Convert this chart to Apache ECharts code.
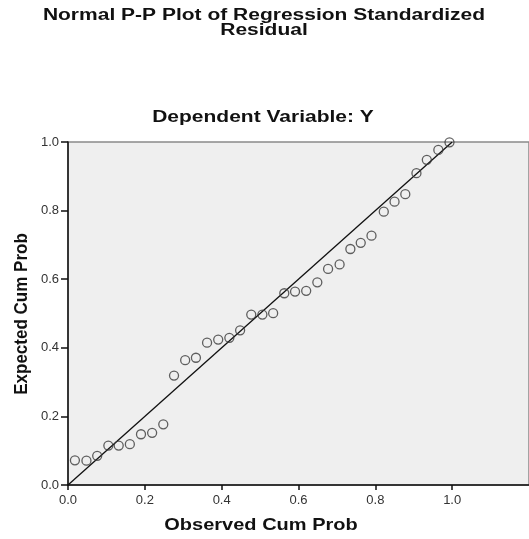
<!DOCTYPE html>
<html>
<head>
<meta charset="utf-8">
<script src="https://cdn.jsdelivr.net/npm/echarts@6/dist/echarts.min.js"></script>
<style>html,body{margin:0;padding:0;background:#fff}#c{width:529px;height:539px}</style>
</head>
<body>
<div id="c"></div>
<script>
var titleLines = ['Normal P-P Plot of Regression Standardized', 'Residual'];
var subtitle = 'Dependent Variable: Y';
var xName = 'Observed Cum Prob';
var yName = 'Expected Cum Prob';
var observedCumProb = [0.018,0.048,0.076,0.105,0.132,0.161,0.190,0.219,0.248,0.276,0.305,0.333,0.362,0.391,0.420,0.448,0.477,0.506,0.534,0.563,0.591,0.620,0.649,0.677,0.707,0.735,0.762,0.790,0.822,0.850,0.878,0.907,0.934,0.964,0.993];
var expectedCumProb = [0.072,0.071,0.085,0.115,0.115,0.119,0.148,0.152,0.177,0.319,0.364,0.371,0.415,0.424,0.429,0.451,0.497,0.497,0.501,0.559,0.564,0.566,0.591,0.630,0.643,0.688,0.706,0.727,0.797,0.826,0.848,0.909,0.948,0.977,0.999];
var refLineX = [0, 1];
var refLineY = [0, 1];

var pts = observedCumProb.map(function(x, i){ return [x, expectedCumProb[i]]; });
var ref = refLineX.map(function(x, i){ return [x, refLineY[i]]; });

var chart = echarts.init(document.getElementById('c'), null, {renderer:'canvas'});
var FONT = 'Arial, "Liberation Sans", sans-serif';
chart.setOption({
  animation: false,
  grid: {left: 68, top: 142, bottom: 54, right: -4, show: true, backgroundColor: '#efefef', borderColor: '#8a8a8a', borderWidth: 1.5},
  xAxis: {
    type: 'value', min: 0, max: 1.2, interval: 0.2,
    axisLine: {show: true, onZero: false, lineStyle: {color: '#111', width: 1.5}},
    axisTick: {show: true, length: 5, lineStyle: {color: '#111', width: 1.5}},
    axisLabel: {margin: 9, fontSize: 13, fontFamily: FONT, color: '#333', showMaxLabel: false,
      formatter: function(v){ return v.toFixed(1); }},
    splitLine: {show: false}
  },
  yAxis: {
    type: 'value', min: 0, max: 1, interval: 0.2,
    axisLine: {show: true, onZero: false, lineStyle: {color: '#111', width: 1.5}},
    axisTick: {show: true, length: 7, lineStyle: {color: '#111', width: 1.5}},
    axisLabel: {margin: 9, fontSize: 13, fontFamily: FONT, color: '#333',
      formatter: function(v){ return v.toFixed(1); }},
    splitLine: {show: false}
  },
  series: [
    {type: 'line', data: ref, symbol: 'none', lineStyle: {color: '#111', width: 1.3}, z: 2},
    {type: 'scatter', data: pts, symbol: 'circle', symbolSize: 9,
      itemStyle: {color: 'rgba(0,0,0,0)', borderColor: '#3a3a3a', borderWidth: 1.3}, z: 3}
  ],
  graphic: [
    {type: 'text', x: 264, y: 23, scaleY: 0.78, style: {text: titleLines.join('\n'), font: 'bold 21px ' + FONT, lineHeight: 19, fill: '#111', align: 'center', verticalAlign: 'middle'}},
    {type: 'text', x: 263, y: 117, scaleY: 0.8, style: {text: subtitle, font: 'bold 21px ' + FONT, fill: '#111', align: 'center', verticalAlign: 'middle'}},
    {type: 'text', x: 261, y: 526, scaleY: 0.8, style: {text: xName, font: 'bold 20px ' + FONT, fill: '#111', align: 'center', verticalAlign: 'middle'}},
    {type: 'text', x: 22, y: 314, rotation: Math.PI/2, scaleX: 0.85, scaleY: 0.9, style: {text: yName, font: 'bold 20px ' + FONT, fill: '#111', align: 'center', verticalAlign: 'middle'}}
  ]
});
</script>
</body>
</html>
